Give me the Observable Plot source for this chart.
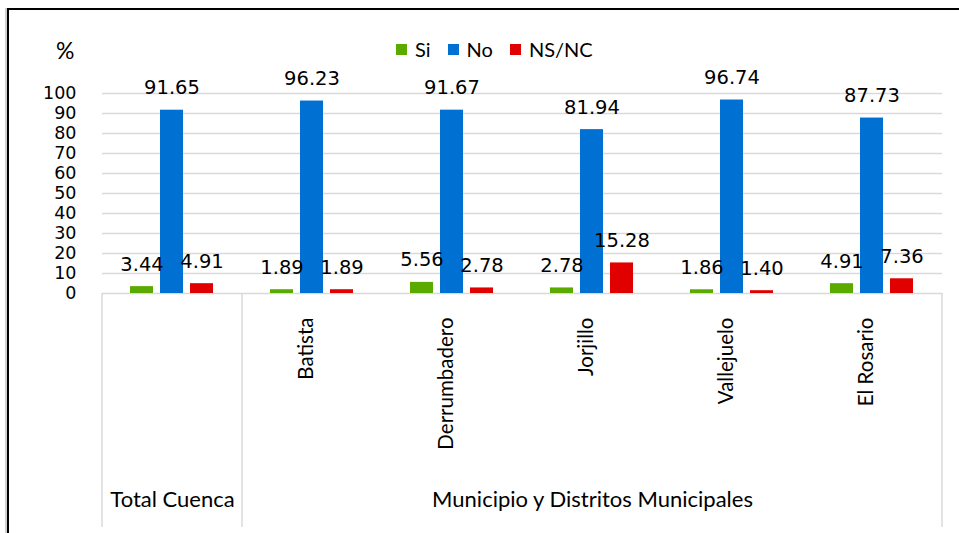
<!DOCTYPE html>
<html>
<head>
<meta charset="utf-8">
<script src="https://cdn.jsdelivr.net/npm/d3@7"></script>
<script src="https://cdn.jsdelivr.net/npm/@observablehq/plot@0.6"></script>
<style>
  body { margin: 0; background: #fff; }
  #wrap { position: relative; width: 959px; height: 533px; overflow: hidden; background: #fff; }
  #frame { position: absolute; left: 7px; top: 8px; width: 970px; height: 560px;
           border-top: 2px solid #000; border-left: 2px solid #000; box-shadow: -2px 0 0 #d0d0d0; }
  #chart { position: absolute; left: 0; top: 0; }
  #legend { position: absolute; top: 37px; left: 396px; display: flex; align-items: center;
            font-family: Lato, sans-serif; font-size: 20px; color: #000; white-space: nowrap; }
  #legend .sw { display: inline-block; width: 11px; height: 11px; margin-right: 8px; }
  #legend .it { display: flex; align-items: center; margin-right: 17px; }
  #pct { position: absolute; left: 56px; top: 36px; font-family: Lato, sans-serif; font-size: 23px; color: #000; }
</style>
</head>
<body>
<div id="wrap">
  <div id="frame"></div>
  <div id="chart"></div>
  <div id="legend"></div>
  <div id="pct">%</div>
</div>
<script>
const categories = ["Total Cuenca", "Batista", "Derrumbadero", "Jorjillo", "Vallejuelo", "El Rosario"];
const series = ["Si", "No", "NS/NC"];
const si   = [3.44, 1.89, 5.56, 2.78, 1.86, 4.91];
const no   = [91.65, 96.23, 91.67, 81.94, 96.74, 87.73];
const nsnc = [4.91, 1.89, 2.78, 15.28, 1.40, 7.36];
const colors = ["#5aaa00", "#0070d2", "#e10000"];
const yTicks = [0, 10, 20, 30, 40, 50, 60, 70, 80, 90, 100];
const totalLabel = "Total Cuenca";
const groupLabel = "Municipio y Distritos Municipales";
const municipios = categories.slice(1);

const values = [si, no, nsnc];
const rows = [];
categories.forEach((c, i) => series.forEach((s, j) => rows.push({category: c, series: s, value: values[j][i]})));

const midMunicipio = municipios[Math.floor(municipios.length / 2)];

const plot = Plot.plot({
  width: 959,
  height: 533,
  marginLeft: 100,
  marginRight: 16,
  marginTop: 93,
  marginBottom: 240,
  style: { fontFamily: "DejaVu Sans", fontSize: "19px", color: "#000", background: "transparent" },
  fx: { domain: categories, padding: 0, axis: null },
  x: { domain: series, paddingInner: 0.226, paddingOuter: 0.879, axis: null },
  y: { domain: [0, 100], axis: null },
  color: { domain: series, range: colors },
  marks: [
    Plot.ruleY(yTicks, { stroke: "#d9d9d9", strokeWidth: 1.5 }),
    Plot.axisY({ ticks: yTicks, tickSize: 0, tickPadding: 26, fontSize: "17.5px", fontFamily: "DejaVu Sans", label: null }),
    Plot.barY(rows, { fx: "category", x: "series", y: "value", fill: "series" }),
    Plot.text(rows, { fx: "category", x: "series", y: "value", text: d => d.value.toFixed(2),
      lineAnchor: "bottom", dy: -16, fill: "#000", fontSize: "19.5px", fontFamily: "DejaVu Sans" }),
    Plot.text(municipios, { fx: d => d, text: d => d, frameAnchor: "bottom", rotate: -90, textAnchor: "end",
      dy: 24, fill: "#000", fontSize: "20.5px", fontFamily: "Lato" }),
    Plot.text([totalLabel], { fx: d => d, text: d => d, frameAnchor: "bottom", lineAnchor: "bottom",
      dy: 213, fill: "#000", fontSize: "22px", fontFamily: "Lato" }),
    Plot.text([groupLabel], { fx: () => midMunicipio, text: d => d, frameAnchor: "bottom", lineAnchor: "bottom",
      dy: 213, fill: "#000", fontSize: "22px", fontFamily: "Lato" })
  ]
});
document.getElementById("chart").appendChild(plot);

// category-axis separators derived from the scales
const fx = plot.scale("fx");
const yS = plot.scale("y");
const y0 = yS.apply(0);
const y1 = 527;
const svg = d3.select(plot);
const bounds = [fx.apply(categories[0]), fx.apply(municipios[0]),
                fx.apply(categories[categories.length - 1]) + fx.bandwidth];
svg.append("g").selectAll("line").data(bounds).join("line")
  .attr("x1", d => d).attr("x2", d => d).attr("y1", y0).attr("y2", y1)
  .attr("stroke", "#d9d9d9").attr("stroke-width", 1.5);

// legend
const legend = d3.select("#legend");
series.forEach((s, i) => {
  const it = legend.append("div").attr("class", "it");
  it.append("span").attr("class", "sw").style("background", colors[i]);
  it.append("span").text(s);
});
</script>
</body>
</html>
